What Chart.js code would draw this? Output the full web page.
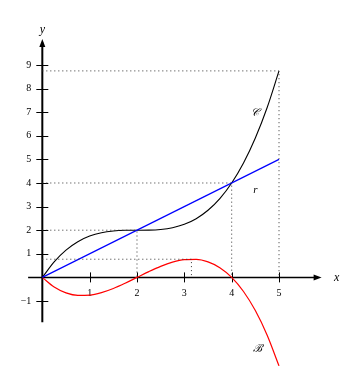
<!DOCTYPE html>
<html><head><meta charset="utf-8">
<script src="https://cdn.jsdelivr.net/npm/chart.js@4"></script>
<style>html,body{margin:0;padding:0;background:#fff;}canvas{display:block;}</style>
</head><body>
<canvas id="c" width="361" height="384"></canvas>
<script>
const xs      = [0, 0.25, 0.5, 0.75, 1, 1.25, 1.5, 1.75, 2, 2.25, 2.5, 2.75, 3, 3.25, 3.5, 3.75, 4, 4.25, 4.5, 4.75, 5];
const curveC  = [0, 0.66, 1.156, 1.512, 1.75, 1.895, 1.969, 1.996, 2, 2.004, 2.031, 2.105, 2.25, 2.488, 2.844, 3.34, 4, 4.848, 5.906, 7.199, 8.75];
const curveB  = [0, -0.41, -0.656, -0.762, -0.75, -0.645, -0.469, -0.246, 0, 0.246, 0.469, 0.645, 0.75, 0.762, 0.656, 0.41, 0, -0.598, -1.406, -2.449, -3.75];
const lineRx  = [0, 5];
const lineRy  = [0, 5];
const guideX  = [5, 4, 2, 3.15];
const guideY  = [8.75, 4, 2, 0.77];
const xTicks  = [1, 2, 3, 4, 5];
const yTicks  = [-1, 1, 2, 3, 4, 5, 6, 7, 8, 9];
const xTickLabels = ['1','2','3','4','5'];
const yTickLabels = ['\u22121','1','2','3','4','5','6','7','8','9'];

const pts = (xa, ya) => xa.map((x, i) => ({x, y: ya[i]}));

const guideSets = guideX.map((gx, i) => ({
  data: [{x: 0, y: guideY[i]}, {x: gx, y: guideY[i]}, {x: gx, y: 0}],
  borderColor: '#333', borderWidth: 1, borderDash: [1, 3], pointRadius: 0, showLine: true, tension: 0
}));

const axesPlugin = {
  id: 'axes',
  beforeDatasetsDraw(chart) {
    const ctx = chart.ctx, xs_ = chart.scales.x, ys_ = chart.scales.y;
    const X = v => xs_.getPixelForValue(v), Y = v => ys_.getPixelForValue(v);
    const x0 = X(0), y0 = Y(0);
    ctx.save();
    ctx.strokeStyle = '#000'; ctx.fillStyle = '#000';
    // x axis
    ctx.lineWidth = 1.5;
    ctx.beginPath(); ctx.moveTo(X(-0.3), y0); ctx.lineTo(X(5.82), y0); ctx.stroke();
    ctx.beginPath(); ctx.moveTo(X(5.9), y0); ctx.lineTo(X(5.9) - 8, y0 - 3); ctx.lineTo(X(5.9) - 8, y0 + 3); ctx.closePath(); ctx.fill();
    // y axis
    ctx.lineWidth = 2;
    ctx.beginPath(); ctx.moveTo(x0, Y(-1.9)); ctx.lineTo(x0, Y(9.95)); ctx.stroke();
    ctx.beginPath(); ctx.moveTo(x0, Y(10.1)); ctx.lineTo(x0 - 3, Y(10.1) + 8); ctx.lineTo(x0 + 3, Y(10.1) + 8); ctx.closePath(); ctx.fill();
    // ticks
    ctx.lineWidth = 1;
    ctx.font = '10px "Liberation Serif", serif';
    ctx.textAlign = 'center'; ctx.textBaseline = 'middle';
    xTicks.forEach((v, i) => {
      const px = Math.round(X(v)) + 0.5;
      ctx.beginPath(); ctx.moveTo(px, y0 - 5); ctx.lineTo(px, y0 + 5); ctx.stroke();
      ctx.fillText(xTickLabels[i], X(v), y0 + 16);
    });
    ctx.textAlign = 'right';
    yTicks.forEach((v, i) => {
      const py = Math.round(Y(v)) + 0.5;
      ctx.beginPath(); ctx.moveTo(x0 - 6, py); ctx.lineTo(x0 + 6, py); ctx.stroke();
      ctx.fillText(yTickLabels[i], x0 - 11, Y(v));
    });
    // axis names
    ctx.textAlign = 'center';
    ctx.font = 'italic 12px "Liberation Serif", serif';
    ctx.fillText('y', x0, Y(10.1) - 9);
    ctx.fillText('x', X(5.9) + 15, y0);
    // curve names
    ctx.font = 'italic 11px "Liberation Serif", "DejaVu Serif", serif';
    ctx.fillText('\u{1D49E}', X(4.5), Y(6.95));
    ctx.fillText('r', X(4.5), Y(3.7));
    ctx.fillText('\u212C', X(4.55), Y(-3.05));
    ctx.restore();
  }
};

new Chart(document.getElementById('c'), {
  type: 'scatter',
  data: {
    datasets: [
      ...guideSets,
      { data: pts(lineRx, lineRy), borderColor: '#0000ff', borderWidth: 1.2, pointRadius: 0, showLine: true, tension: 0 },
      { data: pts(xs, curveC), borderColor: '#000', borderWidth: 1.1, pointRadius: 0, showLine: true, cubicInterpolationMode: 'monotone' },
      { data: pts(xs, curveB), borderColor: '#ff0000', borderWidth: 1.2, pointRadius: 0, showLine: true, cubicInterpolationMode: 'monotone' }
    ]
  },
  options: {
    responsive: false, animation: false,
    layout: { padding: 0 },
    plugins: { legend: { display: false }, tooltip: { enabled: false } },
    scales: {
      x: { type: 'linear', display: false, min: -0.894, max: 6.732 },
      y: { type: 'linear', display: false, min: -4.517, max: 11.754 }
    }
  },
  plugins: [axesPlugin]
});
</script>
</body></html>
